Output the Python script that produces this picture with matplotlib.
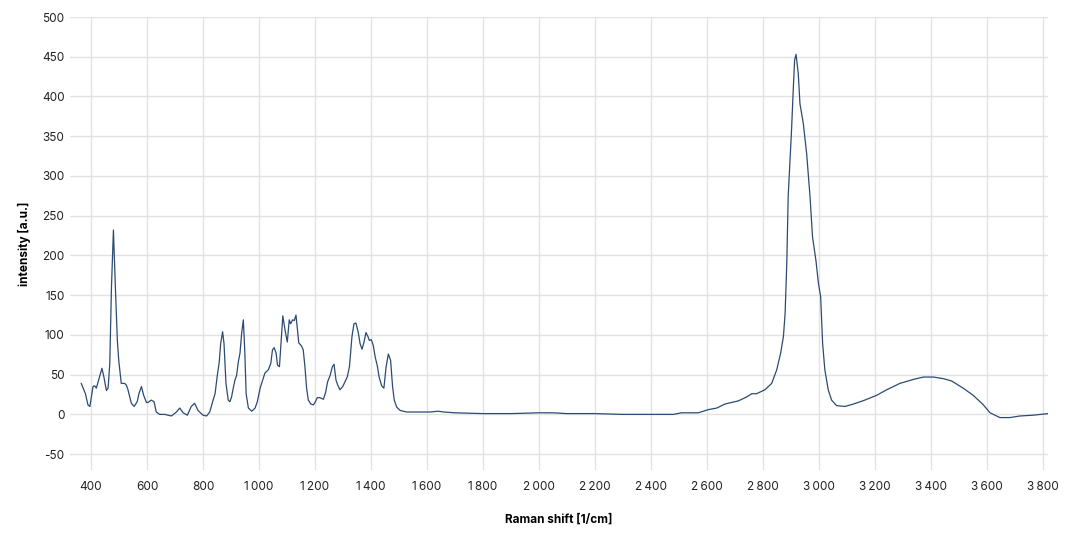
import matplotlib
matplotlib.use("Agg")
import matplotlib.pyplot as plt
from matplotlib.ticker import FuncFormatter, MultipleLocator

plt.rcParams['font.family'] = ['Inter', 'DejaVu Sans']

# spectrum (Raman shift in 1/cm, intensity in a.u.)
shift = [365, 380, 389, 396, 407, 413, 419, 427, 439, 446, 455, 461, 467, 473, 480,
         487, 494, 499, 508, 520, 526, 532, 544, 554, 565, 571, 580, 588, 598, 603,
         615, 625, 633, 645, 663, 687, 705, 717, 729, 744, 758, 770, 782, 800, 813,
         824, 836, 843, 851, 858, 863, 870, 875, 882, 890, 896, 902, 908, 914, 920,
         926, 932, 938, 944, 949, 954, 962, 974, 986, 994, 1004, 1013, 1021, 1033, 1042,
         1048, 1054, 1061, 1066, 1073, 1079, 1085, 1093, 1101, 1108, 1113, 1120, 1126, 1132, 1137,
         1142, 1152, 1158, 1164, 1170, 1176, 1185, 1194, 1200, 1208, 1218, 1230, 1238, 1245, 1254,
         1262, 1268, 1275, 1281, 1289, 1299, 1307, 1315, 1323, 1327, 1332, 1339, 1346, 1354, 1361,
         1368, 1375, 1382, 1389, 1394, 1401, 1408, 1415, 1422, 1429, 1438, 1446, 1454, 1462, 1470,
         1477, 1483, 1492, 1504, 1527, 1611, 1640, 1660, 1700, 1800, 1900, 2000, 2050, 2100, 2200,
         2300, 2396, 2480, 2509, 2569, 2605, 2635, 2664, 2712, 2742, 2760, 2777, 2807, 2831, 2849,
         2863, 2873, 2879, 2885, 2890, 2896, 2902, 2908, 2913, 2918, 2926, 2932, 2944, 2956, 2968,
         2977, 2989, 2998, 3006, 3013, 3021, 3033, 3045, 3063, 3093, 3123, 3164, 3206, 3242, 3289,
         3337, 3373, 3408, 3444, 3474, 3515, 3551, 3587, 3611, 3646, 3682, 3718, 3765, 3818]
intensity = [39, 26, 12, 10, 35, 36, 33, 43, 58, 47, 30, 33, 64, 160, 232,
             160, 93, 68, 39, 39, 37, 31, 14, 10, 16, 26, 35, 24, 15, 15,
             18, 16, 3, 0, 0, -2, 3, 8, 2, -1, 10, 14, 5, -1, -2,
             3, 18, 26, 49, 66, 89, 104, 89, 39, 18, 16, 22, 33, 43, 49,
             66, 77, 102, 119, 81, 26, 8, 4, 8, 16, 33, 43, 52, 56, 64,
             81, 84, 77, 62, 60, 93, 124, 106, 91, 119, 114, 119, 118, 125, 108,
             90, 86, 81, 60, 33, 18, 13, 12, 15, 21, 21, 19, 28, 41, 49,
             60, 63, 43, 37, 31, 35, 41, 47, 60, 77, 98, 114, 115, 104, 89,
             82, 91, 103, 98, 93, 94, 87, 72, 62, 47, 36, 33, 60, 76, 68,
             35, 18, 9, 5, 3, 3, 4, 3, 2, 1, 1, 2, 2, 1, 1,
             0, 0, 0, 2, 2, 6, 8, 13, 17, 22, 26, 26, 31, 39, 56,
             77, 98, 127, 190, 274, 316, 358, 408, 446, 453, 429, 391, 366, 328, 274,
             223, 194, 165, 148, 89, 56, 31, 18, 11, 10, 13, 18, 24, 31, 39,
             44, 47, 47, 45, 42, 33, 24, 12, 2, -4, -4, -2, -1, 1]

x_ticks = list(range(400, 3801, 200))

fig = plt.figure(figsize=(10.74, 5.42), dpi=100)
ax = fig.add_axes([0.0652, 0.1328, 0.9106, 0.8358])

ax.plot(shift, intensity, color='#2b4b72', lw=0.9)

ax.set_xlim(325, 3818)
ax.set_ylim(-70, 500)
ax.set_xticks(x_ticks)
ax.yaxis.set_major_locator(MultipleLocator(50))
ax.xaxis.set_major_formatter(FuncFormatter(lambda v, p: f"{int(v):,}".replace(",", "\u202f")))
ax.yaxis.set_major_formatter(FuncFormatter(lambda v, p: f"{int(v)}"))

ax.grid(True, color='#e2e2e2', lw=1)
ax.set_axisbelow(True)
for s in ax.spines.values():
    s.set_visible(False)
ax.tick_params(length=0, labelsize=8.5, colors='#222222')
ax.tick_params(axis='x', pad=8)
ax.tick_params(axis='y', pad=4)

ax.set_xlabel('Raman shift [1/cm]', fontsize=8.5, fontweight='bold', labelpad=15)
ax.set_ylabel('intensity [a.u.]', fontsize=8.5, fontweight='bold', labelpad=8)

fig.savefig('out.png', dpi=100)
